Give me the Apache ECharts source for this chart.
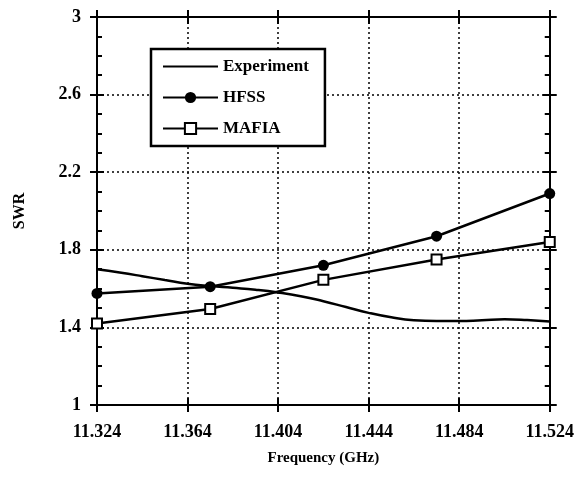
<!DOCTYPE html>
<html>
<head>
<meta charset="utf-8">
<script src="https://cdn.jsdelivr.net/npm/echarts@6/dist/echarts.min.js"></script>
<style>
html,body{margin:0;padding:0;background:#fff;}
#chart{width:577px;height:481px;}
</style>
</head>
<body>
<div id="chart"></div>
<script>
// ---- data ----
var F0 = 11.324;           // first frequency tick (GHz)
var SWR0 = 1;              // first SWR tick
var xTickLabels = ['11.324','11.364','11.404','11.444','11.484','11.524'];
var yTickLabels = ['1','1.4','1.8','2.2','2.6','3'];

var simFreq = [11.324, 11.374, 11.424, 11.474, 11.524];
var hfssSWR  = [1.575, 1.61, 1.72, 1.87, 2.09];
var mafiaSWR = [1.42, 1.495, 1.645, 1.75, 1.84];

var expFreq = [11.324, 11.334, 11.344, 11.354, 11.364, 11.374, 11.384, 11.394, 11.404, 11.414, 11.424, 11.434, 11.444, 11.454, 11.464, 11.474, 11.484, 11.494, 11.504, 11.514, 11.524];
var expSWR  = [1.70, 1.683, 1.664, 1.644, 1.625, 1.613, 1.604, 1.594, 1.58, 1.561, 1.535, 1.505, 1.475, 1.452, 1.437, 1.433, 1.433, 1.437, 1.442, 1.438, 1.43];

// ---- build ----
function pts(fs, vs){
  return fs.map(function(f,i){ return [+(f - F0).toFixed(4), +(vs[i] - SWR0).toFixed(4)]; });
}
var FONT = 'Liberation Serif';
var tickIdx = function(v, step){ return Math.round(v/step); };

function xAxis(pos, inside, labels){
  return {
    type:'value', position: pos, min:0, max:0.2, interval:0.04,
    axisLine:{show:true, onZero:false, lineStyle:{color:'#000', width:2}},
    axisTick:{show:true, inside: inside, length:7, lineStyle:{color:'#000', width:2}},
    axisLabel:{show: labels, margin:18, color:'#000', fontFamily:FONT, fontWeight:'bold', fontSize:18,
      formatter:function(v){ return xTickLabels[tickIdx(v,0.04)]; }},
    splitLine:{show: labels, lineStyle:{color:'#000', type:[2,3], width:1.5}},
    name: labels && pos==='bottom' ? 'Frequency (GHz)' : '',
    nameLocation:'middle', nameGap:46,
    nameTextStyle:{color:'#000', fontFamily:FONT, fontWeight:'bold', fontSize:15}
  };
}
function yAxis(pos, inside, labels){
  return {
    type:'value', position: pos, min:0, max:2, interval:0.4,
    axisLine:{show:true, onZero:false, lineStyle:{color:'#000', width:2}},
    axisTick:{show:true, inside: inside, length:7, lineStyle:{color:'#000', width:2}},
    minorTick:{show: inside, splitNumber:4, length:5, lineStyle:{color:'#000', width:2}},
    axisLabel:{show: labels, margin:16, color:'#000', fontFamily:FONT, fontWeight:'bold', fontSize:18,
      formatter:function(v){ return yTickLabels[tickIdx(v,0.4)]; }},
    splitLine:{show: labels, lineStyle:{color:'#000', type:[2,3], width:1.5}},
    name: labels && pos==='left' ? 'SWR' : '',
    nameLocation:'middle', nameGap:69, nameRotate:90,
    nameTextStyle:{color:'#000', fontFamily:FONT, fontWeight:'bold', fontSize:16}
  };
}

var chart = echarts.init(document.getElementById('chart'), null, {renderer:'canvas'});
chart.setOption({
  animation:false,
  backgroundColor:'#fff',
  grid:{left:97, right:25, top:17, bottom:76, show:false},
  xAxis:[xAxis('bottom', false, true), xAxis('bottom', true, false), xAxis('top', true, false), xAxis('top', false, false)],
  yAxis:[yAxis('left', false, true), yAxis('left', true, false), yAxis('right', true, false), yAxis('right', false, false)],
  legend:{
    orient:'vertical', left:151, top:49,
    padding:[9,16,9,11], itemGap:14, itemWidth:55, itemHeight:14,
    backgroundColor:'#fff', borderColor:'#000', borderWidth:2.5,
    textStyle:{color:'#000', fontFamily:FONT, fontWeight:'bold', fontSize:17},
    data:[{name:'Experiment', itemStyle:{opacity:0}}, 'HFSS', 'MAFIA']
  },
  series:[
    {name:'Experiment', type:'line', smooth:true, symbol:'none', z:3,
     lineStyle:{color:'#000', width:2.5}, itemStyle:{color:'#000'},
     data: pts(expFreq, expSWR)},
    {name:'HFSS', type:'line', symbol:'circle', symbolSize:11, z:4,
     lineStyle:{color:'#000', width:2.5}, itemStyle:{color:'#000'},
     data: pts(simFreq, hfssSWR)},
    {name:'MAFIA', type:'line', symbol:'rect', symbolSize:10, z:4,
     lineStyle:{color:'#000', width:2.5}, itemStyle:{color:'#fff', borderColor:'#000', borderWidth:2},
     data: pts(simFreq, mafiaSWR)}
  ]
});
</script>
</body>
</html>
